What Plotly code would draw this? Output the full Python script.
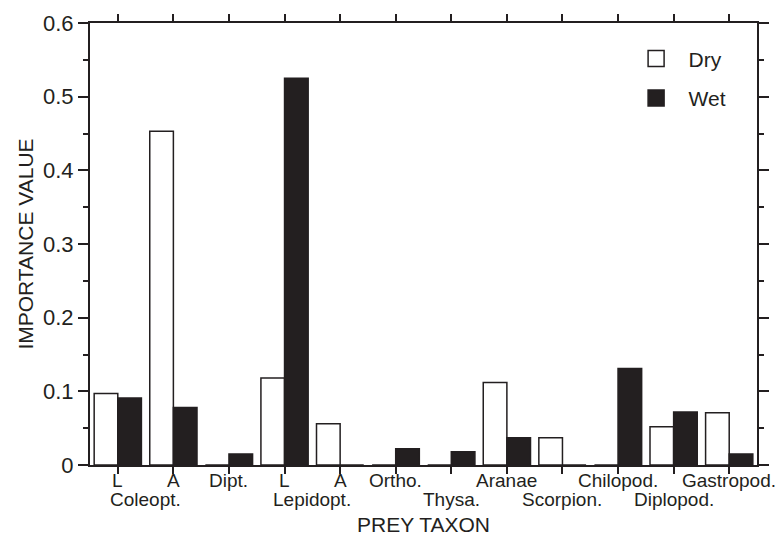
import plotly.graph_objects as go

categories = ["Coleopt. L", "Coleopt. A", "Dipt.", "Lepidopt. L", "Lepidopt. A", "Ortho.",
              "Thysa.", "Aranae", "Scorpion.", "Chilopod.", "Diplopod.", "Gastropod."]
dry = [0.097, 0.453, 0.0, 0.118, 0.056, 0.0, 0.0, 0.112, 0.037, 0.0, 0.052, 0.071]
wet = [0.091, 0.078, 0.015, 0.525, 0.0, 0.022, 0.018, 0.037, 0.0, 0.131, 0.072, 0.015]
row1_labels = ["L", "A", "Dipt.", "L", "A", "Ortho.", "Aranae", "Chilopod.", "Gastropod."]
row1_pos = [0, 1, 2, 3, 4, 5, 7, 9, 11]
row2_labels = ["Coleopt.", "Lepidopt.", "Thysa.", "Scorpion.", "Diplopod."]
row2_pos = [0.5, 3.5, 6, 8, 10]

INK = "#231f20"
FONT = "Liberation Sans"
xs = list(range(len(categories)))

fig = go.Figure()
fig.add_trace(go.Bar(x=xs, y=dry, name="Dry", marker=dict(color="white", line=dict(color=INK, width=1.5)),
                     showlegend=False))
fig.add_trace(go.Bar(x=xs, y=wet, name="Wet", marker=dict(color=INK, line=dict(color=INK, width=1.5)),
                     showlegend=False))
# legend proxies
fig.add_trace(go.Scatter(x=[None], y=[None], mode="markers", name="Dry", legendgroup="d",
                         marker=dict(symbol="square", size=16, color="white", line=dict(color=INK, width=1.5))))
fig.add_trace(go.Scatter(x=[None], y=[None], mode="markers", name="Wet", legendgroup="w",
                         marker=dict(symbol="square", size=16, color=INK, line=dict(color=INK, width=1.5))))

for lab, pos in zip(row1_labels, row1_pos):
    fig.add_annotation(x=pos, y=0, xref="x", yref="paper", text=lab, showarrow=False,
                       yanchor="top", yshift=-3, font=dict(family=FONT, size=19, color=INK))
for lab, pos in zip(row2_labels, row2_pos):
    fig.add_annotation(x=pos, y=0, xref="x", yref="paper", text=lab, showarrow=False,
                       yanchor="top", yshift=-22, font=dict(family=FONT, size=19, color=INK))

fig.update_layout(
    width=777, height=543,
    margin=dict(l=90, r=20, t=23, b=78, autoexpand=False),
    paper_bgcolor="white", plot_bgcolor="white",
    barmode="group", bargap=0.15, bargroupgap=0,
    font=dict(family=FONT, color=INK),
    legend=dict(x=0.8, y=0.965, xanchor="left", yanchor="top", font=dict(size=21, color=INK),
                itemwidth=55,
                tracegroupgap=9, traceorder="grouped", bgcolor="rgba(0,0,0,0)"),
    xaxis=dict(range=[-0.5, 11.5], tickmode="array", tickvals=xs, ticktext=[""] * len(xs),
               ticks="outside", ticklen=7, tickwidth=1.5, tickcolor=INK, automargin=False,
               showline=True, linecolor=INK, linewidth=2, mirror="ticks", showgrid=False, zeroline=False,
               tickfont=dict(size=19, color=INK),
               title=dict(text="PREY TAXON", font=dict(size=21, color=INK), standoff=40)),
    yaxis=dict(range=[0, 0.6], dtick=0.1, ticks="outside", ticklen=10, tickwidth=1.5, tickcolor=INK,
               minor=dict(dtick=0.05, ticks="outside", ticklen=5, tickwidth=1.5, tickcolor=INK),
               showline=True, linecolor=INK, linewidth=2, mirror="ticks", showgrid=False, zeroline=False,
               tickfont=dict(size=22, color=INK), automargin=False,
               title=dict(text="IMPORTANCE VALUE", font=dict(size=21, color=INK), standoff=4)),
)

fig.write_html("out.html", config={"displayModeBar": False},
               post_script="document.body.style.margin='0';document.body.style.overflow='hidden';")
